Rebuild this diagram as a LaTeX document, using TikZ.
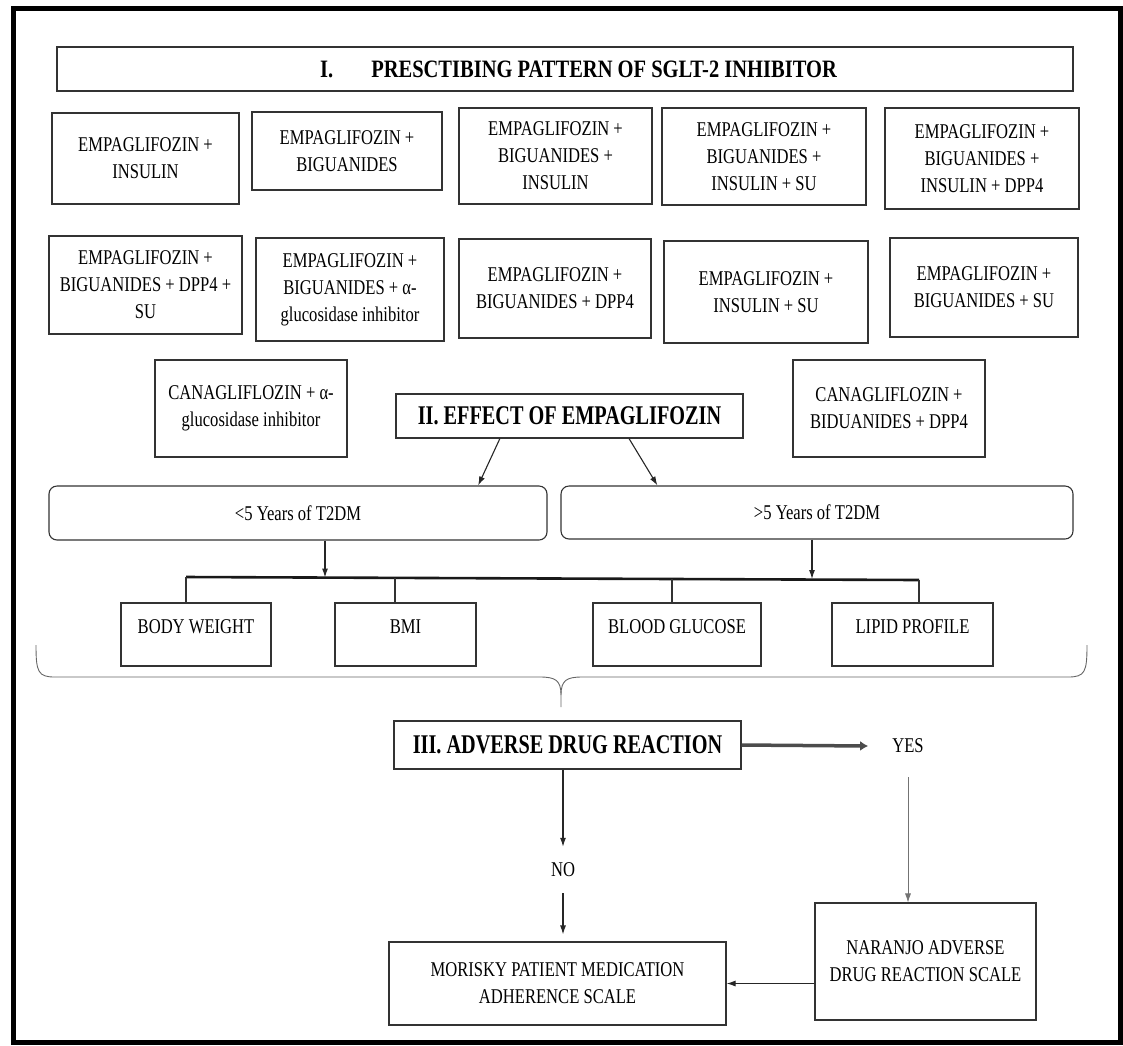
\documentclass[tikz,border=0pt]{standalone}
\usepackage{fontspec}
\setmainfont{Liberation Serif}[FakeStretch=0.79]
\newfontfamily\headfont{Liberation Serif}[FakeStretch=0.75]
\newfontfamily\titlefont{Liberation Serif}[FakeStretch=0.82]
\usetikzlibrary{arrows.meta,calc}

\begin{document}
\begin{tikzpicture}[x=1pt,y=-1pt,
            box/.style={draw=black!80,line width=1.1pt,align=center,font=\fontsize{21}{27}\selectfont},
            cell/.style={box,text height=14pt,text depth=16pt},
            yearbox/.style={box,rounded corners=8pt},
            headbox/.style={draw=black!80,line width=1.1pt,font=\headfont\bfseries\fontsize{27}{32}\selectfont},
            word/.style={font=\fontsize{21}{27}\selectfont},
            arr/.style={line width=1.1pt,black!85,-{Latex[length=9pt,width=6pt]}},
            thinarr/.style={line width=0.7pt,black!55,-{Latex[length=9pt,width=6pt]}},
            bigarr/.style={line width=3.5pt,black!70,-{Latex[length=8pt,width=10pt]}},
            bus/.style={line width=2.6pt,black!90},
            brace/.style={line width=0.9pt,black!60}]
            \useasboundingbox (0,0) rectangle (1123,1045);
            \draw[line width=5pt] (13.5,8.5) rectangle (1120.5,1042.5);

            % I. prescribing pattern
            \node[draw=black!80,line width=1.1pt,minimum width=1016pt,minimum height=44pt,
                font=\titlefont\bfseries\fontsize{25}{30}\selectfont] (title) at (565,69)
                {\hspace{27pt}I.\hspace{38pt}PRESCTIBING PATTERN OF SGLT-2 INHIBITOR};
            \node[box,minimum width=187pt,minimum height=91pt] (e1) at (145.5,158.5) {EMPAGLIFOZIN +\\INSULIN};
            \node[box,minimum width=190pt,minimum height=78pt] (e2) at (347,151) {EMPAGLIFOZIN +\\BIGUANIDES};
            \node[box,minimum width=193pt,minimum height=96pt] (e3) at (555.5,156) {EMPAGLIFOZIN +\\BIGUANIDES +\\INSULIN};
            \node[box,minimum width=204pt,minimum height=97pt] (e4) at (764,156.5) {EMPAGLIFOZIN +\\BIGUANIDES +\\INSULIN + SU};
            \node[box,minimum width=194pt,minimum height=101pt] (e5) at (982,158.5) {EMPAGLIFOZIN +\\BIGUANIDES +\\INSULIN + DPP4};
            \node[box,minimum width=193pt,minimum height=98pt] (f1) at (145.5,285) {EMPAGLIFOZIN +\\BIGUANIDES + DPP4 +\\SU};
            \node[box,minimum width=188pt,minimum height=103pt] (f2) at (350,289.5) {EMPAGLIFOZIN +\\BIGUANIDES + α-\\glucosidase inhibitor};
            \node[box,minimum width=192pt,minimum height=99pt] (f3) at (555,288.5) {EMPAGLIFOZIN +\\BIGUANIDES + DPP4};
            \node[box,minimum width=204pt,minimum height=102pt] (f4) at (766,292) {EMPAGLIFOZIN +\\INSULIN + SU};
            \node[box,minimum width=188pt,minimum height=99pt] (f5) at (984,287.5) {EMPAGLIFOZIN +\\BIGUANIDES + SU};
            \node[box,minimum width=192pt,minimum height=97pt] (c1) at (251,408.5) {CANAGLIFLOZIN + α-\\glucosidase inhibitor};
            \node[box,minimum width=192pt,minimum height=97pt] (c2) at (889,408.5) {CANAGLIFLOZIN +\\BIDUANIDES + DPP4};

            % II. effect of empagliflozin
            \node[headbox,minimum width=347pt,minimum height=44pt] (eff) at (569.5,416) {II. EFFECT OF EMPAGLIFOZIN};
            \node[yearbox,minimum width=498pt,minimum height=54pt] (lt) at (298,513) {<5 Years of T2DM};
            \node[yearbox,minimum width=512pt,minimum height=53pt] (rt) at (817,512.5) {>5 Years of T2DM};
            \draw[arr] ($(eff.south west)!0.30!(eff.south east)$) -- ($(lt.north west)!0.861!(lt.north east)$);
            \draw[arr] ($(eff.south west)!0.671!(eff.south east)$) -- ($(rt.north west)!0.189!(rt.north east)$);

            \node[cell,minimum width=150pt,minimum height=63pt] (bw) at (196,634.5) {BODY WEIGHT};
            \node[cell,minimum width=141pt,minimum height=63pt] (bmi) at (405.5,634.5) {BMI};
            \node[cell,minimum width=168pt,minimum height=63pt] (bg) at (677,634.5) {BLOOD GLUCOSE};
            \node[cell,minimum width=161pt,minimum height=63pt] (lp) at (912.5,634.5) {LIPID PROFILE};

            \coordinate (d1) at (186,577);
            \coordinate (d2) at (395,578);
            \coordinate (d3) at (672,579);
            \coordinate (d4) at (919,580);
            \coordinate (a1) at (325,577.5);
            \coordinate (a2) at (812,579);
            \draw[bus] (d1) -- (d4);
            \draw[line width=1.1pt,black!80] (d1) -- (d1 |- bw.north);
            \draw[line width=1.1pt,black!80] (d2) -- (d2 |- bmi.north);
            \draw[line width=1.1pt,black!80] (d3) -- (d3 |- bg.north);
            \draw[line width=1.1pt,black!80] (d4) -- (d4 |- lp.north);
            \draw[arr] (lt.south -| a1) -- (a1);
            \draw[arr] (rt.south -| a2) -- (a2);

            % brace
            \draw[brace] (36,645) .. controls (36,672) and (38,677) .. (55,677) -- (540,677)
                .. controls (555,677) and (561,680) .. (561,695) -- (561,707);
            \draw[brace] (1087,645) .. controls (1087,672) and (1085,677) .. (1068,677) -- (582,677)
                .. controls (567,677) and (561,680) .. (561,695);

            % III. adverse drug reaction
            \node[headbox,minimum width=347pt,minimum height=48pt] (adr) at (567.5,745) {III. ADVERSE DRUG REACTION};
            \node[word,inner sep=24pt] (yes) at (908,746) {YES};
            \node[word,inner sep=16pt] (no) at (563,870) {NO};
            \node[box,minimum width=337pt,minimum height=83pt] (mor) at (557.5,983.5) {MORISKY PATIENT MEDICATION\\ADHERENCE SCALE};
            \node[box,minimum width=221pt,minimum height=117pt] (nar) at (925.5,961.5) {NARANJO ADVERSE\\DRUG REACTION SCALE};
            \draw[bigarr] (adr.east) -- (yes.west);
            \draw[arr] (adr.south -| no) -- (no.north);
            \draw[arr,shorten >=7pt] (no.south) -- (no.south |- mor.north);
            \draw[thinarr] (yes.south) -- (yes.south |- nar.north);
            \draw[arr] (nar.west |- mor.east) -- (mor.east);
        \end{tikzpicture}
\end{document}
